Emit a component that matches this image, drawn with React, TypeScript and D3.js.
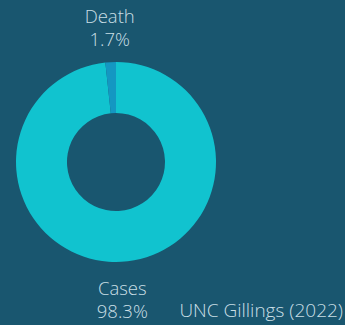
import React from "react";
import * as d3 from "d3";

const categories = ["Cases", "Death"];
const values = [98.3, 1.7];
const labels = ["98.3%", "1.7%"];
const colors = ["#11c3cf", "#1497c2"];
const source = "UNC Gillings (2022)";

const W = 345;
const H = 325;
const cx = 116;
const cy = 162;
const outerR = 100;
const innerR = 49;
const labelR = 118;

export default function App() {
  const pie = d3.pie<number>().sort(null).value((d) => d);
  const arcs = pie(values);
  const arc = d3.arc<d3.PieArcDatum<number>>().innerRadius(innerR).outerRadius(outerR);
  const labelArc = d3.arc<d3.PieArcDatum<number>>().innerRadius(labelR).outerRadius(labelR);
  const font = "'Open Sans', sans-serif";
  const textColor = "#c9dfe5";
  return (
    <svg
      width={W}
      height={H}
      style={{ position: "fixed", left: 0, top: 0, display: "block" }}
    >
      <rect width={W} height={H} fill="#19566f" />
      <g transform={`translate(${cx},${cy})`}>
        {arcs.map((a, i) => (
          <path key={categories[i]} d={arc(a) || ""} fill={colors[i]} />
        ))}
        {arcs.map((a, i) => {
          const [x, y] = labelArc.centroid(a);
          const top = y < 0;
          const y1 = top ? y - 21 : y + 15;
          return (
            <g key={"l" + i} fontFamily={font} fontSize={18.5} fontWeight={300} fill={textColor} textAnchor="middle">
              <text x={x} y={y1}>{categories[i]}</text>
              <text x={x} y={y1 + 23}>{labels[i]}</text>
            </g>
          );
        })}
      </g>
      <text x={343} y={317} textAnchor="end" fontFamily={font} fontSize={19} fontWeight={300} fill={textColor}>
        {source}
      </text>
    </svg>
  );
}
